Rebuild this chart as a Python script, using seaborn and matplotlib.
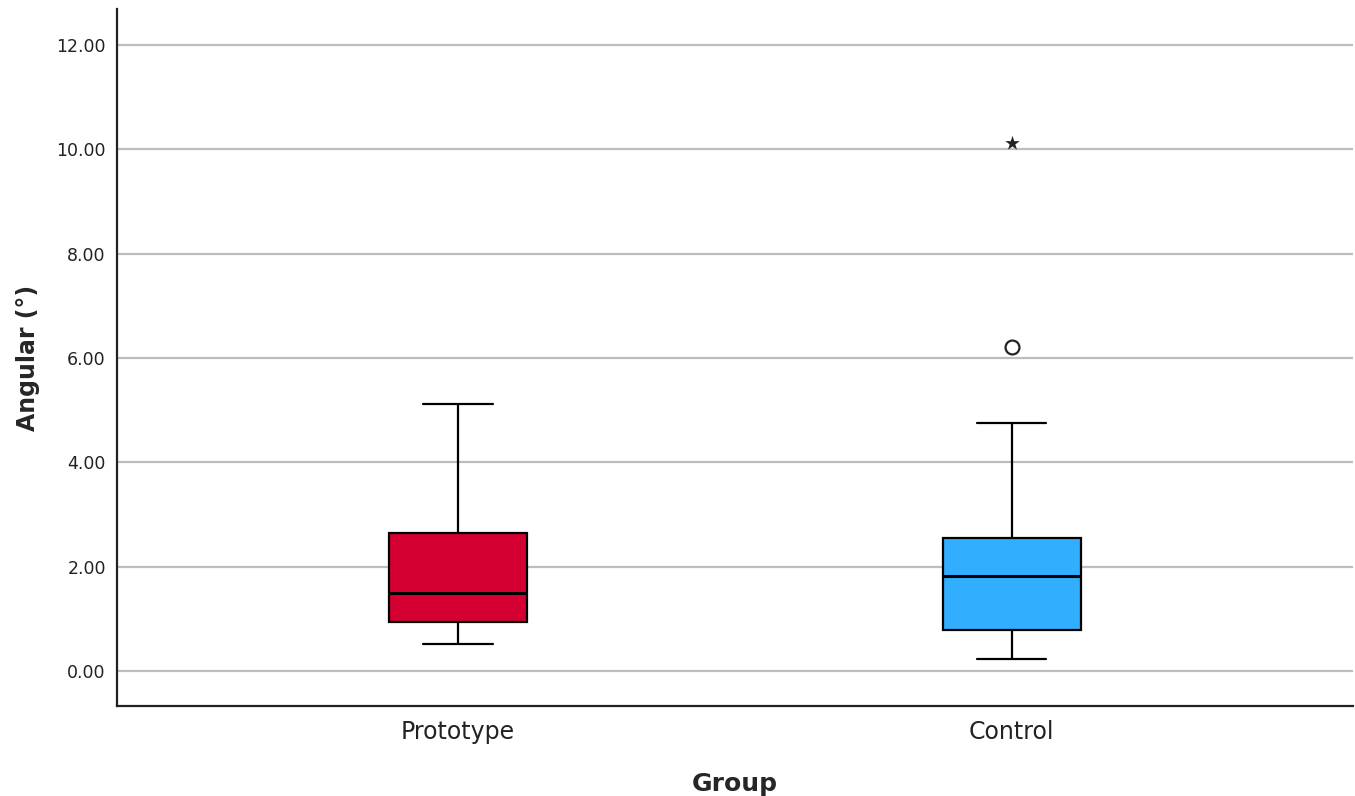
import numpy as np
import pandas as pd
import matplotlib
matplotlib.use("Agg")
import matplotlib.pyplot as plt
import seaborn as sns

# Groups and their five-number summaries (degrees)
groups = ["Prototype", "Control"]
whisker_low = [0.52, 0.23]
q1 = [0.94, 0.79]
median = [1.50, 1.82]
q3 = [2.65, 2.55]
whisker_high = [5.12, 4.75]

# Points beyond the whiskers (Control only)
outlier_group = ["Control"]
outlier_value = [6.21]
extreme_group = ["Control"]
extreme_value = [10.12]

y_ticks = [0, 2, 4, 6, 8, 10, 12]
colors = ["#D50032", "#31AEFE"]

# Seven values per group reproduce each summary exactly under linear quartiles
rows = []
for g, lo, a, m, b, hi in zip(groups, whisker_low, q1, median, q3, whisker_high):
    for v in (lo, a, a, m, b, b, hi):
        rows.append({"Group": g, "Angular": v})
df = pd.DataFrame(rows)

sns.set_theme(style="white")
plt.rcParams["font.family"] = ["DejaVu Sans"]

fig = plt.figure(figsize=(13.55, 7.96), dpi=100)
ax = fig.add_axes([0.0863, 0.1131, 0.9122, 0.8756])

ax.set_axisbelow(True)
for t in y_ticks:
    ax.axhline(t, color="#BDBDBD", lw=1.6, zorder=0)

line_kw = dict(color="black", linewidth=1.6)
sns.boxplot(
    data=df, x="Group", y="Angular", order=groups, hue="Group",
    hue_order=groups, palette=colors, legend=False,
    whis=np.inf, width=0.25, showfliers=False, saturation=1,
    boxprops=dict(edgecolor="black", linewidth=1.6),
    whiskerprops=line_kw, capprops=line_kw,
    medianprops=dict(color="black", linewidth=2.2),
    ax=ax,
)

sns.stripplot(
    x=outlier_group, y=outlier_value, order=groups, jitter=False,
    marker="o", size=10, color="white", edgecolor="#222222", linewidth=1.6,
    ax=ax, zorder=5,
)
sns.stripplot(
    x=extreme_group, y=extreme_value, order=groups, jitter=False,
    marker="*", size=11, color="#222222", linewidth=0,
    ax=ax, zorder=5,
)

ax.set_xlim(-0.616, 1.616)
ax.set_ylim(-0.67, 12.69)
ax.set_yticks(y_ticks)
ax.set_yticklabels([f"{t:.2f}" for t in y_ticks])
ax.set_xticks(range(len(groups)))
ax.set_xticklabels(groups)

ax.tick_params(axis="y", length=0, pad=8, labelsize=12.5, labelcolor="#222222")
ax.tick_params(axis="x", length=0, pad=10, labelsize=17, labelcolor="#222222")

ax.set_xlabel("Group", fontsize=18, fontweight="bold", labelpad=20)
ax.set_ylabel("Angular (°)", fontsize=17, fontweight="bold", labelpad=12)

sns.despine(ax=ax, top=True, right=True)
for side in ("left", "bottom"):
    ax.spines[side].set_color("#222222")
    ax.spines[side].set_linewidth(1.6)

fig.savefig("out.png", dpi=100, facecolor="white")
